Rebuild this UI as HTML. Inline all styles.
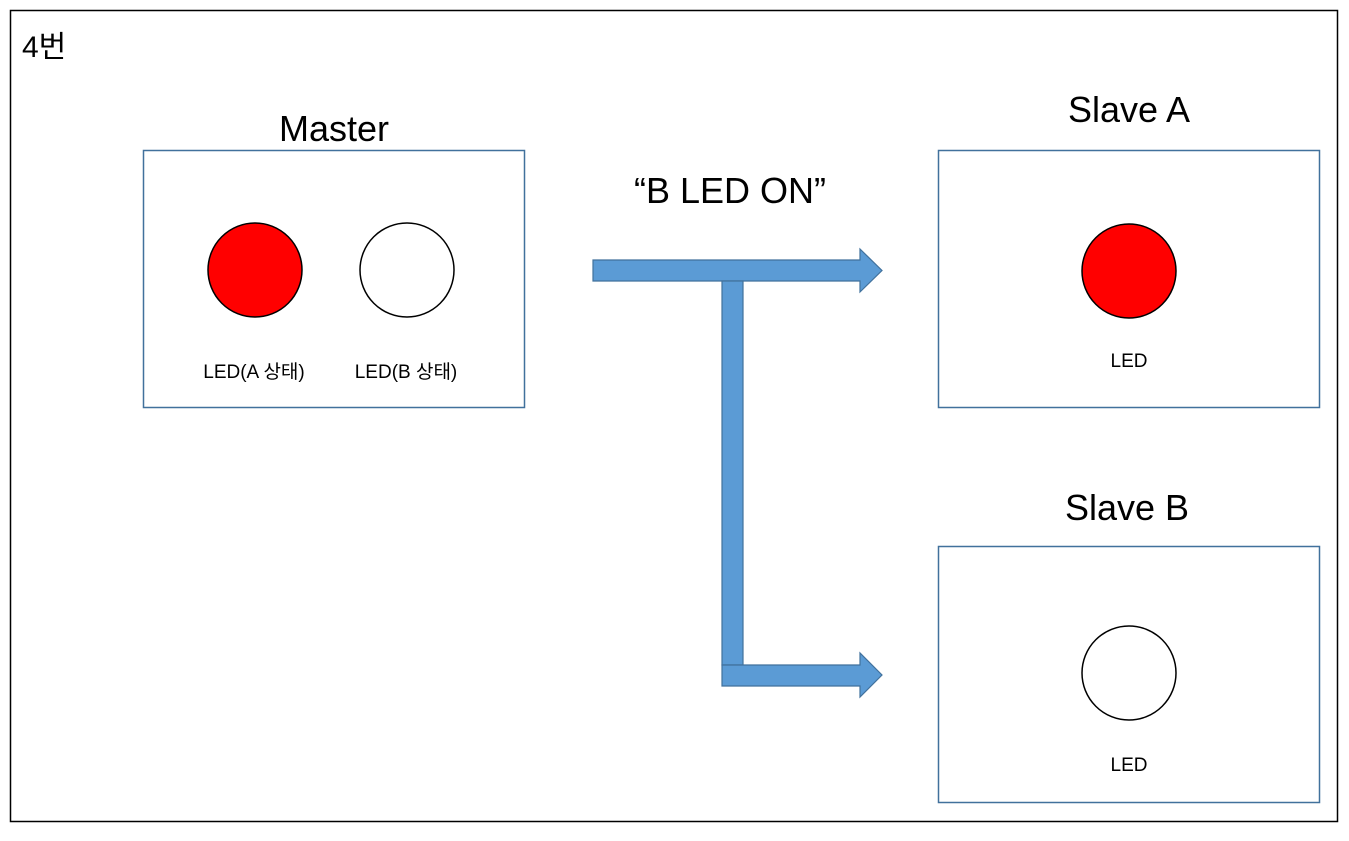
<!DOCTYPE html>
<html><head><meta charset="utf-8"><style>
body{margin:0;background:#fff;}
svg text{font-family:"Liberation Sans","Noto Sans CJK KR",sans-serif;}
</style></head><body>
<svg width="1349" height="836" viewBox="0 0 1349 836" xmlns="http://www.w3.org/2000/svg">
<rect x="0" y="0" width="1349" height="836" fill="#fff"/>
<rect x="10.5" y="10.5" width="1327" height="811" fill="none" stroke="#000" stroke-width="1.5"/>
<text x="22" y="57" font-size="30">4번</text>
<text x="334" y="141" font-size="36" text-anchor="middle">Master</text>
<rect x="143.5" y="150.5" width="381" height="257" fill="none" stroke="#41719c" stroke-width="1.5"/>
<circle cx="255" cy="270" r="47" fill="#ff0000" stroke="#000" stroke-width="1.5"/>
<circle cx="407" cy="270" r="47" fill="#fff" stroke="#000" stroke-width="1.5"/>
<text x="254" y="378" font-size="19" text-anchor="middle">LED(A 상태)</text>
<text x="406" y="378" font-size="19" text-anchor="middle">LED(B 상태)</text>
<text x="730" y="203" font-size="36" text-anchor="middle">“B LED ON”</text>
<text x="1129" y="122" font-size="36" text-anchor="middle">Slave A</text>
<rect x="938.5" y="150.5" width="381" height="257" fill="none" stroke="#41719c" stroke-width="1.5"/>
<circle cx="1129" cy="271" r="47" fill="#ff0000" stroke="#000" stroke-width="1.5"/>
<text x="1129" y="367" font-size="19" text-anchor="middle">LED</text>
<text x="1127" y="520" font-size="36" text-anchor="middle">Slave B</text>
<rect x="938.5" y="546.5" width="381" height="256" fill="none" stroke="#41719c" stroke-width="1.5"/>
<circle cx="1129" cy="673" r="47" fill="#fff" stroke="#000" stroke-width="1.5"/>
<text x="1129" y="771" font-size="19" text-anchor="middle">LED</text>
<g fill="#5b9bd5" stroke="#41719c" stroke-width="1.2">
<polygon points="593,260 860,260 860,249 882,270.5 860,292 860,281 593,281"/>
<rect x="722" y="281" width="21" height="384"/>
<polygon points="722,665 860,665 860,653 882,675 860,697 860,686 722,686"/>
</g>
</svg>
</body></html>
